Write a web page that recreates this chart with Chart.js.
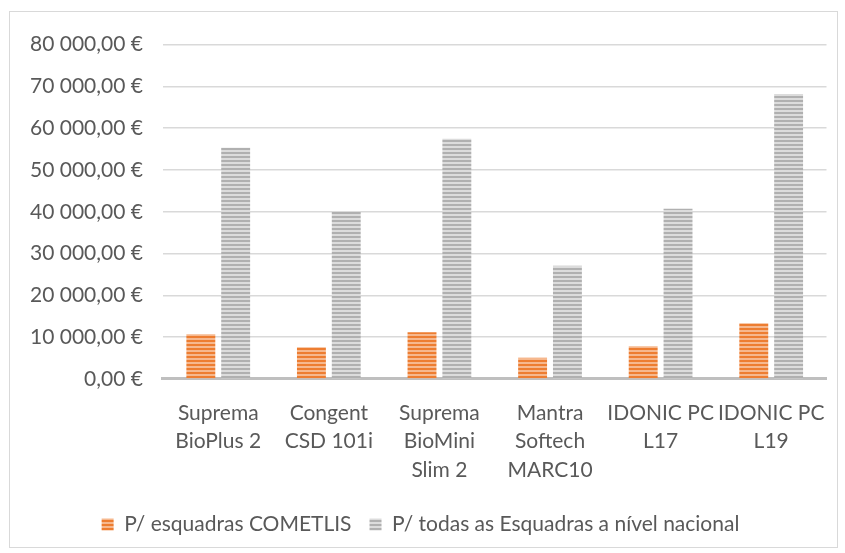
<!DOCTYPE html>
<html>
<head>
<meta charset="utf-8">
<script src="https://cdn.jsdelivr.net/npm/chart.js@4"></script>
<style>
  body { margin: 0; background: #fff; }
  #box { position: absolute; left: 9px; top: 11px; width: 827px; height: 535px; border: 1px solid #d9d9d9; }
</style>
</head>
<body>
<div id="box"><canvas id="grafico"></canvas></div>
<script>
// Dados do gráfico
const categorias = [
    ['Suprema', 'BioPlus 2'],
    ['Congent', 'CSD 101i'],
    ['Suprema', 'BioMini', 'Slim 2'],
    ['Mantra', 'Softech', 'MARC10'],
    ['IDONIC PC', 'L17'],
    ['IDONIC PC', 'L19']
];
const serieCometlis = [10700, 7600, 11200, 5100, 7800, 13300];
const serieNacional = [55300, 40100, 57500, 27100, 40700, 68200];
const nomesSeries = ['P/ esquadras COMETLIS', 'P/ todas as Esquadras a nível nacional'];

// Padrão de riscas horizontais
function riscas (claro, escuro) {
    const c = document.createElement('canvas');
    c.width = 4;
    c.height = 4;
    const ctx = c.getContext('2d');
    ctx.fillStyle = claro;
    ctx.fillRect(0, 0, 4, 4);
    ctx.fillStyle = escuro;
    ctx.fillRect(0, 0, 4, 2);
    return ctx.createPattern(c, 'repeat');
}

function euros (v) {
    const s = Math.round(v).toString().replace(/\B(?=(\d{3})+(?!\d))/g, ' ');
    return s + ',00 €';
}

const fonte = "Lato, 'Open Sans', sans-serif";
const ctx = document.getElementById('grafico');
const meuGrafico = new Chart(ctx, {
    type: 'bar',
    data: {
        labels: categorias,
        datasets: [{
            label: nomesSeries[0],
            data: serieCometlis,
            backgroundColor: riscas('#f6b88e', '#ed7d31')
        }, {
            label: nomesSeries[1],
            data: serieNacional,
            backgroundColor: riscas('#dcdcdc', '#b0b0b0')
        }]
    },
    options: {
        responsive: true,
        maintainAspectRatio: false,
        animation: false,
        layout: { padding: { top: 19, right: 6, left: 0, bottom: 2 } },
        datasets: {
            bar: { categoryPercentage: 0.63, barPercentage: 0.83 }
        },
        scales: {
            x: {
                grid: { display: false },
                border: { color: '#bfbfbf', width: 3 },
                ticks: {
                    color: '#595959',
                    font: { family: fonte, size: 21, lineHeight: 1.35 },
                    maxRotation: 0,
                    autoSkip: false,
                    padding: 12
                }
            },
            y: {
                min: 0,
                max: 80000,
                border: { display: false },
                grid: { color: '#d9d9d9', lineWidth: 1.5, drawTicks: false },
                ticks: {
                    stepSize: 10000,
                    color: '#595959',
                    font: { family: fonte, size: 21 },
                    padding: 20,
                    callback: (v) => euros(v)
                }
            }
        },
        plugins: {
            legend: {
                position: 'bottom',
                labels: {
                    color: '#595959',
                    font: { family: fonte, size: 21 },
                    boxWidth: 12,
                    boxHeight: 12,
                    padding: 18
                }
            },
            tooltip: { enabled: false }
        }
    }
});
</script>
</body>
</html>
